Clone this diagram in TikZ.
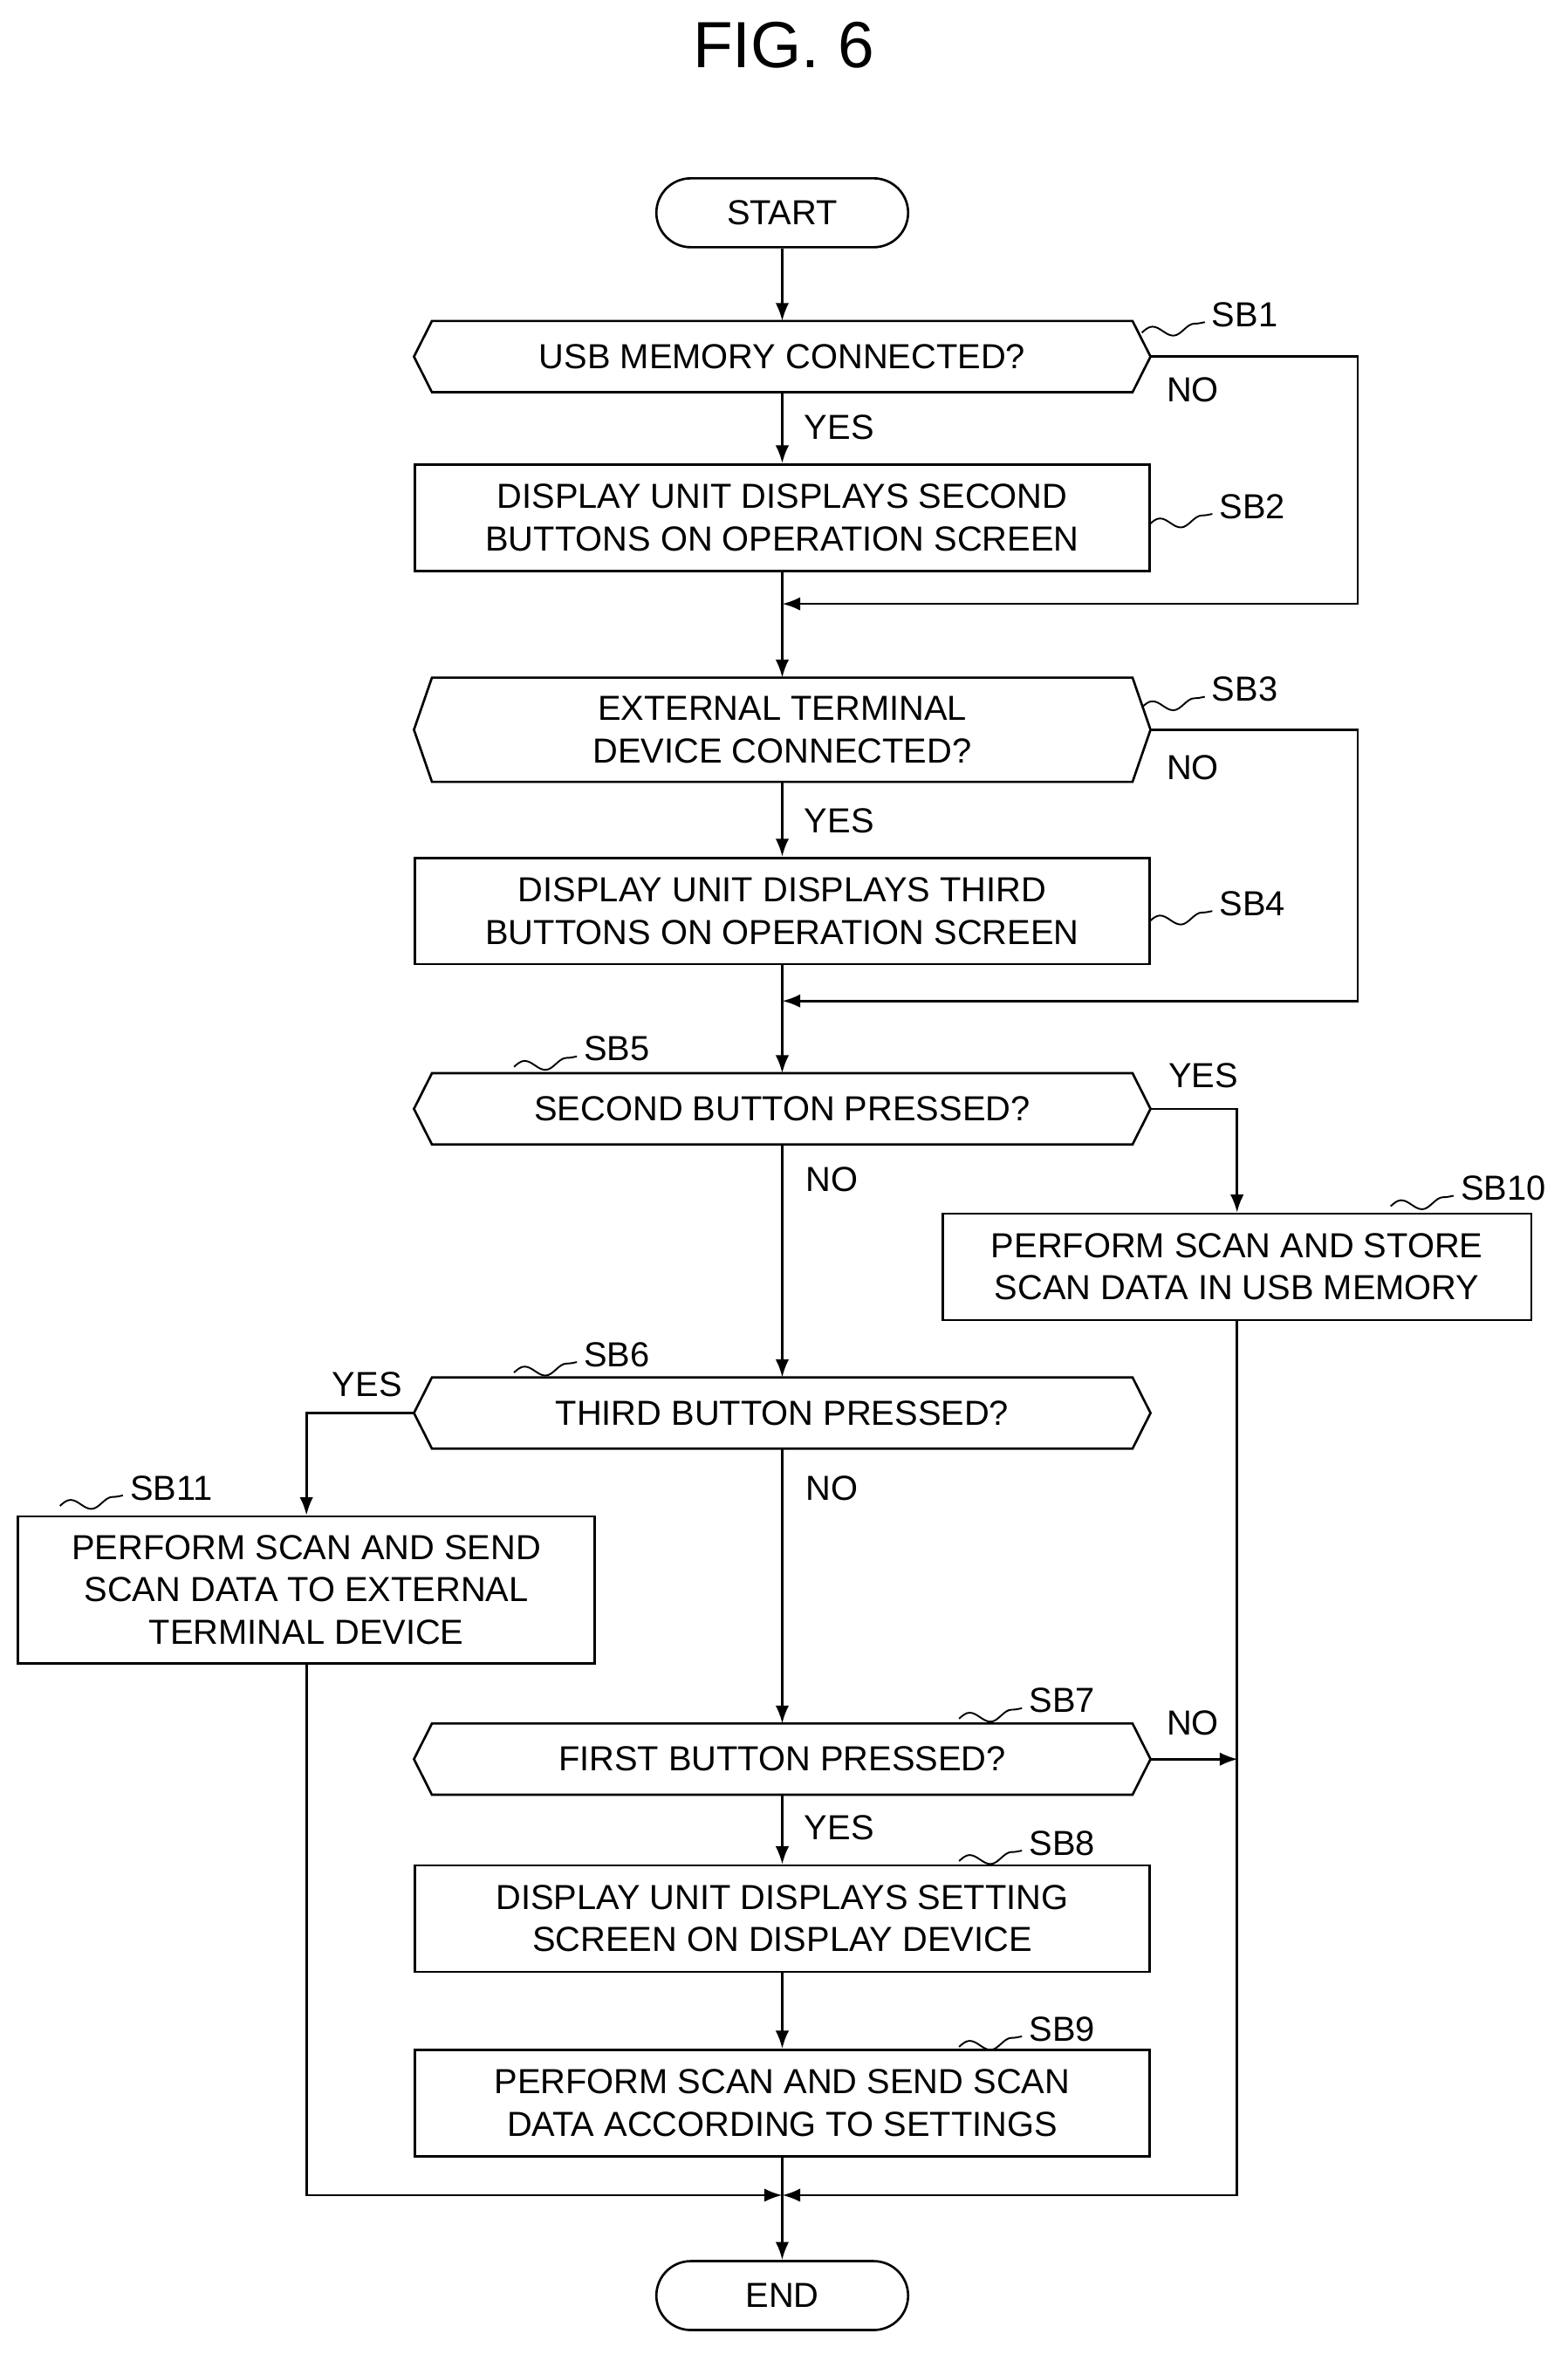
\documentclass[tikz,border=0pt]{standalone}
\usepackage{fontspec}
\setmainfont{Liberation Sans}
\usetikzlibrary{arrows.meta,calc}
\begin{document}
\begin{tikzpicture}[x=0.05cm,y=-0.05cm,line width=2.2pt,
  every node/.style={font=\fontsize{33}{40}\selectfont, align=center, inner sep=0pt},
  box/.style={draw, minimum width=24.5cm, minimum height=3.55cm},
  hex/.style={minimum width=24.5cm, minimum height=2.3cm},
  term/.style={draw, rounded corners=1.15cm, minimum width=8.4cm, minimum height=2.3cm},
  lab/.style={font=\fontsize{33}{40}\selectfont},
  arr/.style={-{Latex[length=0.6cm,width=0.45cm]}},
  sq/.style={line width=1.6pt}]
\newcommand\hexa[1]{\draw (#1.west) -- ($(#1.north west)+(12,0)$) -- ($(#1.north east)+(-12,0)$) -- (#1.east) -- ($(#1.south east)+(-12,0)$) -- ($(#1.south west)+(12,0)$) -- cycle;}
\newcommand\squig[3]{\draw[sq] (#1,#2) sin ++(7,-4) cos ++(7,3) sin ++(7,3) cos ++(7,-4) sin ++(7,-4) cos ++(7,-1);\node[lab,anchor=west] at (#1+46,#2-12) {#3};}
\useasboundingbox (0,0) rectangle (1046,1571);
\node[font=\fontsize{62}{70}\selectfont] (title) at (523,30) {FIG. 6};
\node[term] (start) at (522,142) {START};
\node[hex] (sb1) at (522,238) {USB MEMORY CONNECTED?}; \hexa{sb1}
\node[box] (sb2) at (522,345.5) {DISPLAY UNIT DISPLAYS SECOND\\BUTTONS ON OPERATION SCREEN};
\node[hex, minimum height=3.4cm] (sb3) at (522,487) {EXTERNAL TERMINAL\\DEVICE CONNECTED?}; \hexa{sb3}
\node[box] (sb4) at (522,608) {DISPLAY UNIT DISPLAYS THIRD\\BUTTONS ON OPERATION SCREEN};
\node[hex] (sb5) at (522,740) {SECOND BUTTON PRESSED?}; \hexa{sb5}
\node[box, minimum width=19.65cm] (sb10) at (825.5,845.5) {PERFORM SCAN AND STORE\\SCAN DATA IN USB MEMORY};
\node[hex] (sb6) at (522,943) {THIRD BUTTON PRESSED?}; \hexa{sb6}
\node[box, minimum width=19.25cm, minimum height=4.9cm] (sb11) at (204.5,1061) {PERFORM SCAN AND SEND\\SCAN DATA TO EXTERNAL\\TERMINAL DEVICE};
\node[hex] (sb7) at (522,1174) {FIRST BUTTON PRESSED?}; \hexa{sb7}
\node[box] (sb8) at (522,1280.5) {DISPLAY UNIT DISPLAYS SETTING\\SCREEN ON DISPLAY DEVICE};
\node[box] (sb9) at (522,1403.5) {PERFORM SCAN AND SEND SCAN\\DATA ACCORDING TO SETTINGS};
\node[term] (end) at (522,1532) {END};
\coordinate (m1) at (522,403);
\coordinate (m2) at (522,668);
\coordinate (m3) at (522,1465);
\draw[arr] (start) -- (sb1);
\draw[arr] (sb1) -- (sb2);
\draw (sb2) -- (m1);
\draw[arr] (m1) -- (sb3);
\draw[arr] (sb1.east) -| (906,403) -- (m1);
\draw[arr] (sb3) -- (sb4);
\draw (sb4) -- (m2);
\draw[arr] (m2) -- (sb5);
\draw[arr] (sb3.east) -| (906,668) -- (m2);
\draw[arr] (sb5) -- (sb6);
\draw[arr] (sb5.east) -| (sb10.north);
\draw[arr] (sb6) -- (sb7);
\draw[arr] (sb6.west) -| (sb11.north);
\draw[arr] (sb7) -- (sb8);
\draw[arr] (sb7.east) -- (826,1174);
\draw[arr] (sb8) -- (sb9);
\draw (sb9) -- (m3);
\draw[arr] (m3) -- (end);
\draw[arr] (sb10.south) |- (m3);
\draw[arr] (sb11.south) |- (m3);
\node[lab] (y1) at (560,285) {YES};
\node[lab] (n1) at (796,260) {NO};
\node[lab] (y3) at (560,548) {YES};
\node[lab] (n3) at (796,512) {NO};
\node[lab] (y5) at (803,718) {YES};
\node[lab] (n5) at (555,787) {NO};
\node[lab] (y6) at (245,924) {YES};
\node[lab] (n6) at (555,993) {NO};
\node[lab] (n7) at (796,1150) {NO};
\node[lab] (y7) at (560,1220) {YES};
\squig{762}{222}{SB1}
\squig{767}{350}{SB2}
\squig{762}{472}{SB3}
\squig{767}{615}{SB4}
\squig{343}{712}{SB5}
\squig{928}{805}{SB10}
\squig{343}{916}{SB6}
\squig{40}{1005}{SB11}
\squig{640}{1147}{SB7}
\squig{640}{1242}{SB8}
\squig{640}{1366}{SB9}
\end{tikzpicture}
\end{document}
